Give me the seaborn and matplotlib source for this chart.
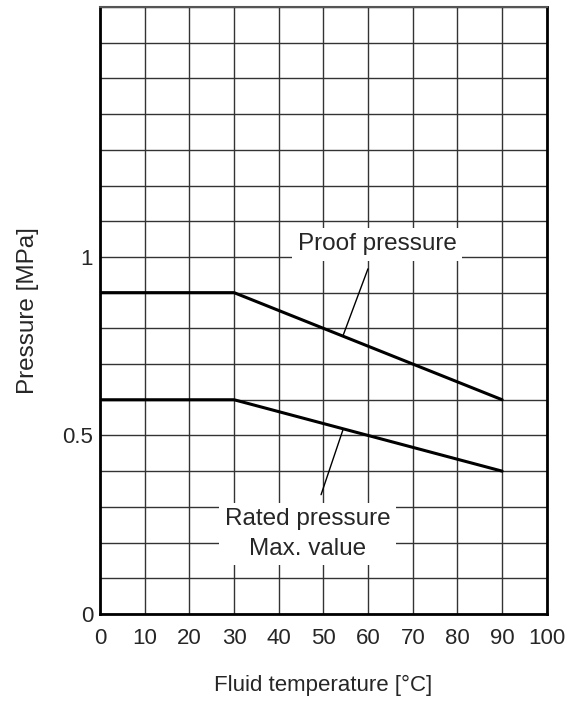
import matplotlib
matplotlib.use("Agg")
import matplotlib.pyplot as plt
import seaborn as sns
import pandas as pd

# Data
temp = [0, 30, 90]
proof = [0.9, 0.9, 0.6]
rated = [0.6, 0.6, 0.4]
x_ticks = [0, 10, 20, 30, 40, 50, 60, 70, 80, 90, 100]
y_ticks = [0, 0.5, 1]
y_tick_labels = ["0", "0.5", "1"]

df = pd.DataFrame({
    "temp": temp * 2,
    "pressure": proof + rated,
    "kind": ["Proof"] * 3 + ["Rated"] * 3,
})

sns.set_style("white")
plt.rcParams["font.family"] = ["Liberation Sans", "DejaVu Sans"]

fig = plt.figure(figsize=(5.75, 7.02), dpi=100)
ax = fig.add_axes([0.174, 0.1254, 0.777, 0.8646])

# grid every 10 degC / 0.1 MPa
for gx in range(0, 101, 10):
    ax.axvline(gx, color="#333333", lw=1.0, zorder=1)
for i in range(18):
    ax.axhline(i / 10, color="#333333", lw=1.0, zorder=1)

sns.lineplot(data=df, x="temp", y="pressure", units="kind", estimator=None,
             color="black", lw=2.2, legend=False, ax=ax, zorder=3)

ax.set_xlim(0, 100)
ax.set_ylim(0, 1.7)
ax.set_xticks(x_ticks)
ax.set_yticks(y_ticks)
ax.set_yticklabels(y_tick_labels)
ax.tick_params(length=0, labelsize=16)
ax.tick_params(axis="x", pad=10)
ax.tick_params(axis="y", pad=5)
for s in ["left", "bottom", "right"]:
    ax.spines[s].set_linewidth(2)
    ax.spines[s].set_color("black")
ax.spines["top"].set_linewidth(1.5)
ax.spines["top"].set_color("#555555")

ax.set_xlabel("Fluid temperature [°C]", fontsize=16, labelpad=19)
ax.set_ylabel("Pressure [MPa]", fontsize=17.5, labelpad=17)

box = dict(facecolor="white", edgecolor="none", pad=4)
ax.annotate("Proof pressure", xy=(54.4, 0.78), xytext=(62, 1.035),
            ha="center", va="center", fontsize=17.5, bbox=box, zorder=4,
            arrowprops=dict(arrowstyle="-", color="black", lw=1.0,
                            shrinkA=6, shrinkB=0))
ax.annotate("Rated pressure\nMax. value", xy=(54.4, 0.517), xytext=(46.5, 0.224),
            ha="center", va="center", fontsize=17.5, bbox=box, zorder=4,
            linespacing=1.45,
            arrowprops=dict(arrowstyle="-", color="black", lw=1.0,
                            shrinkA=6, shrinkB=0))

fig.savefig("out.png", dpi=100)
